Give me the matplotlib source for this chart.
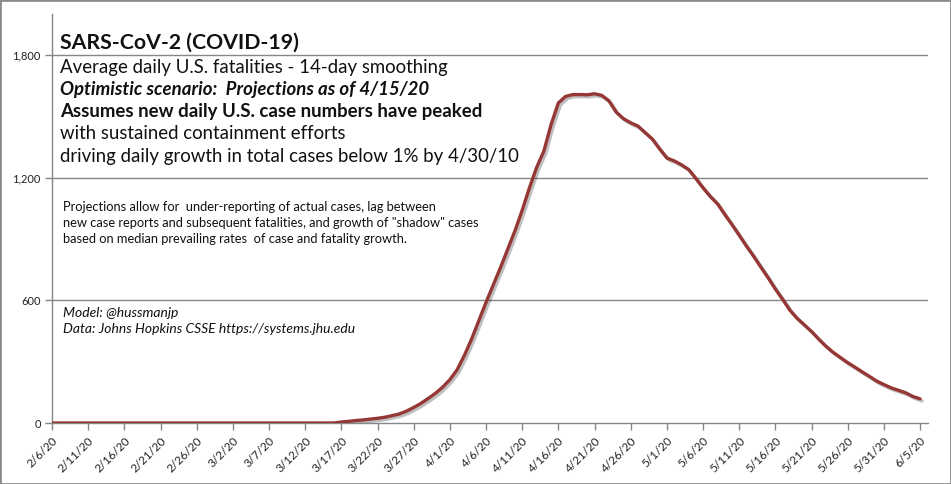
import datetime as dt
import matplotlib
matplotlib.use("Agg")
import matplotlib.pyplot as plt
import matplotlib.patheffects as pe
from matplotlib.patches import Rectangle

start = dt.date(2020, 2, 6)

# average daily U.S. fatalities (14-day smoothing), one value per day from 2/6/20 to 6/5/20
fatalities = [0] * 40 + [
    5, 8, 12, 15, 19, 23, 28, 36, 44, 58,
    76, 96, 120, 145, 175, 212, 260, 330, 410, 500,
    590, 675, 760, 850, 940, 1040, 1150, 1250, 1330, 1460,
    1565, 1597, 1606, 1606, 1605, 1610, 1602, 1575, 1520, 1488,
    1468, 1452, 1420, 1388, 1340, 1296, 1282, 1263, 1240, 1196,
    1150, 1108, 1072, 1020, 970, 918, 865, 815, 762, 710,
    655, 605, 552, 512, 480, 447, 410, 375, 345, 320,
    295, 273, 250, 228, 205, 188, 172, 160, 148, 130,
    118,
]
days = list(range(len(fatalities)))

tick_days = list(range(0, 121, 5))
tick_labels = []
for d in tick_days:
    t = start + dt.timedelta(days=d)
    tick_labels.append(f"{t.month}/{t.day}/20")

y_ticks = [0, 600, 1200, 1800]
y_labels = ["0", "600", "1,200", "1,800"]

title = "SARS-CoV-2 (COVID-19)"
header = [
    ("Average daily U.S. fatalities - 14-day smoothing", "normal", "normal"),
    ("Optimistic scenario:  Projections as of 4/15/20", "bold", "italic"),
    ("Assumes new daily U.S. case numbers have peaked", "bold", "normal"),
    ("with sustained containment efforts", "normal", "normal"),
    ("driving daily growth in total cases below 1% by 4/30/10", "normal", "normal"),
]
note = ("Projections allow for  under-reporting of actual cases, lag between\n"
        "new case reports and subsequent fatalities, and growth of \"shadow\" cases\n"
        "based on median prevailing rates  of case and fatality growth.")
source = "Model: @hussmanjp\nData: Johns Hopkins CSSE https://systems.jhu.edu"

plt.rcParams['font.family'] = ['Lato', 'DejaVu Sans']

W, H = 951, 484
fig = plt.figure(figsize=(W / 100, H / 100), dpi=100)
fig.patch.set_facecolor("white")
ax = fig.add_axes([52 / W, 1 - 423 / H, (928 - 52) / W, (423 - 14) / H])

grid_col = "#868686"
ax.plot(days, fatalities, color="#953735", lw=2.4, solid_capstyle="round", solid_joinstyle="round",
        path_effects=[pe.SimpleLineShadow(offset=(1.5, -1.5), shadow_color="black", alpha=0.25),
                      pe.Normal()], zorder=3)

ax.set_xlim(0, 121.1)
ax.set_ylim(0, 2000)
ax.set_yticks(y_ticks)
ax.set_yticklabels(y_labels, fontsize=8)
ax.set_xticks(tick_days)
ax.set_xticklabels(tick_labels, rotation=45, ha="right", rotation_mode="anchor", fontsize=8.5)
for y in y_ticks[1:]:
    ax.axhline(y, color=grid_col, lw=1, zorder=1)
for s in ["top", "right"]:
    ax.spines[s].set_visible(False)
for s in ["left", "bottom"]:
    ax.spines[s].set_color(grid_col)
    ax.spines[s].set_linewidth(1)
ax.tick_params(axis="both", colors=grid_col, length=5, width=1, labelcolor="#222222")
ax.tick_params(axis="y", pad=3)

def fx(x):
    return x / W

def fy(y):
    return 1 - y / H

fig.text(fx(60), fy(43), title, fontsize=15.3, fontweight="bold", va="center", color="#111111")
for i, (txt, wt, st) in enumerate(header):
    fig.text(fx(60), fy(67 + i * 22.3), txt, fontsize=13.4, fontweight=wt, fontstyle=st,
             va="center", color="#111111")
fig.text(fx(63), fy(223), note, fontsize=9.3, va="center", linespacing=1.42, color="#111111")
fig.text(fx(63), fy(321), source, fontsize=10, fontstyle="italic", va="center",
         linespacing=1.4, color="#111111")

fig.patches.append(Rectangle((0, 0), 1, 1, transform=fig.transFigure, fill=False,
                             edgecolor="#8c8c8c", lw=2))

fig.savefig("out.png", dpi=100)
